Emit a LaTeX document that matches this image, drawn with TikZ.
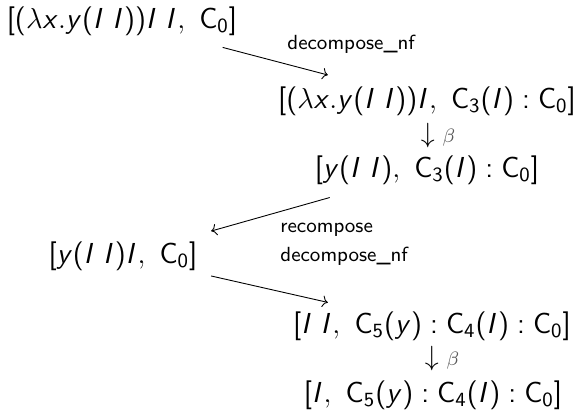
\RequirePackage{fix-cm}
\documentclass[tikz,border=0pt]{standalone}
\usepackage{xcolor}
\usepackage{tikz}
\usetikzlibrary{arrows.meta,calc}

% sans serif math, as on a slide
\DeclareSymbolFont{operators}{OT1}{cmss}{m}{n}
\SetSymbolFont{operators}{bold}{OT1}{cmss}{bx}{n}
\DeclareSymbolFont{sfslant}{OT1}{cmss}{m}{sl}
\DeclareMathSymbol{x}{\mathalpha}{sfslant}{`x}
\DeclareMathSymbol{y}{\mathalpha}{sfslant}{`y}
\DeclareMathSymbol{I}{\mathalpha}{sfslant}{`I}

\begin{document}
\begin{tikzpicture}[
    x=0.45pt, y=-0.45pt,
    term/.style={inner sep=1pt, font=\fontsize{13}{16}\selectfont},
    steplbl/.style={inner sep=0pt, anchor=west, font=\sffamily\fontsize{9.2}{11}\selectfont},
    betalbl/.style={inner sep=1pt, font=\fontsize{12.5}{15}\selectfont},
    arr/.style={->, line width=0.4pt}
]
\useasboundingbox (0,0) rectangle (581,416);

%% Terms
\node[term] (t1) at (122,21) {$[(\lambda x.y(I\;I))I\;I,\ \mathrm{C}_0]$};
\node[term] (t2) at (427,101) {$[(\lambda x.y(I\;I))I,\ \mathrm{C}_3(I) : \mathrm{C}_0]$};
\node[term] (t3) at (427,170) {$[y(I\;I),\ \mathrm{C}_3(I) : \mathrm{C}_0]$};
\node[term] (t4) at (123,256) {$[y(I\;I)I,\ \mathrm{C}_0]$};
\node[term] (t5) at (432,326) {$[I\;I,\ \mathrm{C}_5(y) : \mathrm{C}_4(I) : \mathrm{C}_0]$};
\node[term] (t6) at (433,395) {$[I,\ \mathrm{C}_5(y) : \mathrm{C}_4(I) : \mathrm{C}_0]$};

%% Beta steps
\node[betalbl] (b1) at (438,136) {$\downarrow{\scriptstyle\color{black!65}\beta}$};
\node[betalbl] (b2) at (442,359) {$\downarrow{\scriptstyle\color{black!65}\beta}$};

%% Decompose / recompose
\draw[arr] ($(t1)!0.33!(t2)$) -- ($(t1)!0.675!(t2)$);
\node[steplbl] (l1) at (287,44) {decompose\_nf};

\draw[arr] ($(t3)!0.32!(t4)$) -- ($(t3)!0.71!(t4)$);
\node[steplbl] (l2) at (280,230) {recompose};

\draw[arr] ($(t4)!0.285!(t5)$) -- ($(t4)!0.663!(t5)$);
\node[steplbl] (l3) at (280,256) {decompose\_nf};

\end{tikzpicture}
\end{document}
